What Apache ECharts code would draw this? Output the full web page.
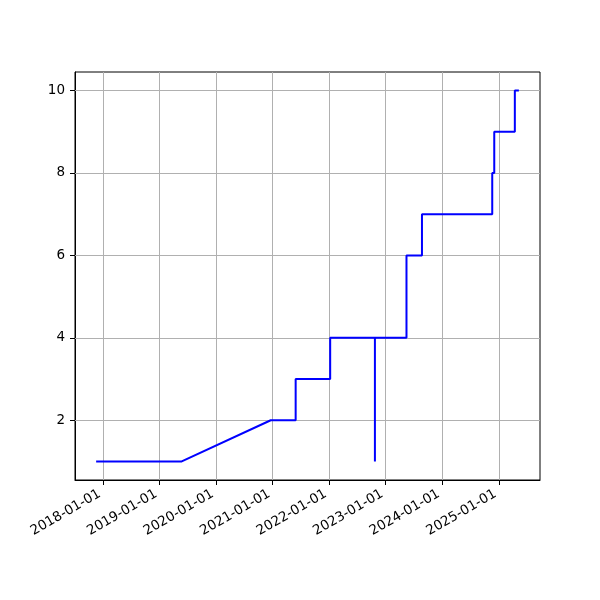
<!DOCTYPE html>
<html>
<head>
<meta charset="utf-8">
<script src="https://cdn.jsdelivr.net/npm/echarts@6/dist/echarts.min.js"></script>
<style>html,body{margin:0;padding:0;background:#fff}#c{width:600px;height:600px}</style>
</head>
<body>
<div id="c"></div>
<script>
const dates = ['2017-11-17','2019-05-24','2020-12-19','2021-05-29','2021-05-29','2022-01-07','2022-01-07','2022-10-23','2022-10-23','2022-10-23','2023-05-15','2023-05-15','2023-08-23','2023-08-23','2024-11-19','2024-11-19','2024-12-02','2024-12-02','2025-04-14','2025-04-14','2025-05-10'];
const values = [1,1,2,2,3,3,4,4,1,4,4,6,6,7,7,8,8,9,9,10,10];
const xTickLabels = ['2018-01-01','2019-01-01','2020-01-01','2021-01-01','2022-01-01','2023-01-01','2024-01-01','2025-01-01'];
const yTicks = [2,4,6,8,10];

const ts = s => { const p = s.split('-').map(Number); return Date.UTC(p[0], p[1]-1, p[2]); };
const xTickVals = xTickLabels.map(ts);
const seriesData = dates.map((d,i) => [ts(d), values[i]]);
const xs = seriesData.map(p => p[0]);
const xMin = Math.min(...xs), xMax = Math.max(...xs), xPad = (xMax - xMin) * 0.05;
const yMin = Math.min(...values), yMax = Math.max(...values), yPad = (yMax - yMin) * 0.05;
const font = 'DejaVu Sans';

const chart = echarts.init(document.getElementById('c'), null, {renderer: 'canvas'});
chart.setOption({
  animation: false,
  backgroundColor: '#fff',
  grid: {left: 75, right: 60, top: 72, bottom: 120, show: true, borderColor: '#000', borderWidth: 1, backgroundColor: 'transparent'},
  xAxis: {
    type: 'value',
    min: xMin - xPad, max: xMax + xPad,
    axisLine: {show: true, lineStyle: {color: '#000', width: 1}},
    axisTick: {show: true, customValues: xTickVals, length: 5, lineStyle: {color: '#000'}},
    axisLabel: {
      customValues: xTickVals, rotate: 30, margin: 11, padding: [0, 4, 0, 0],
      fontFamily: font, fontSize: 13.5, color: '#000',
      formatter: v => { const d = new Date(v); return d.getUTCFullYear() + '-' + String(d.getUTCMonth()+1).padStart(2,'0') + '-' + String(d.getUTCDate()).padStart(2,'0'); }
    },
    splitLine: {show: false}
  },
  yAxis: {
    type: 'value',
    min: yMin - yPad, max: yMax + yPad,
    axisLine: {show: true, lineStyle: {color: '#000', width: 1}},
    axisTick: {show: true, customValues: yTicks, length: 5, lineStyle: {color: '#000'}},
    axisLabel: {customValues: yTicks, margin: 10, fontFamily: font, fontSize: 13.5, color: '#000'},
    splitLine: {show: false}
  },
  series: [
    {
      type: 'line', data: seriesData, showSymbol: false, symbol: 'none',
      lineStyle: {color: '#0000ff', width: 2}, z: 3,
      markLine: {
        silent: true, symbol: 'none', label: {show: false}, animation: false,
        lineStyle: {color: '#b0b0b0', width: 1, type: 'solid'}, z: 1,
        data: xTickVals.map(v => ({xAxis: v})).concat(yTicks.map(v => ({yAxis: v})))
      }
    }
  ]
});
</script>
</body>
</html>
